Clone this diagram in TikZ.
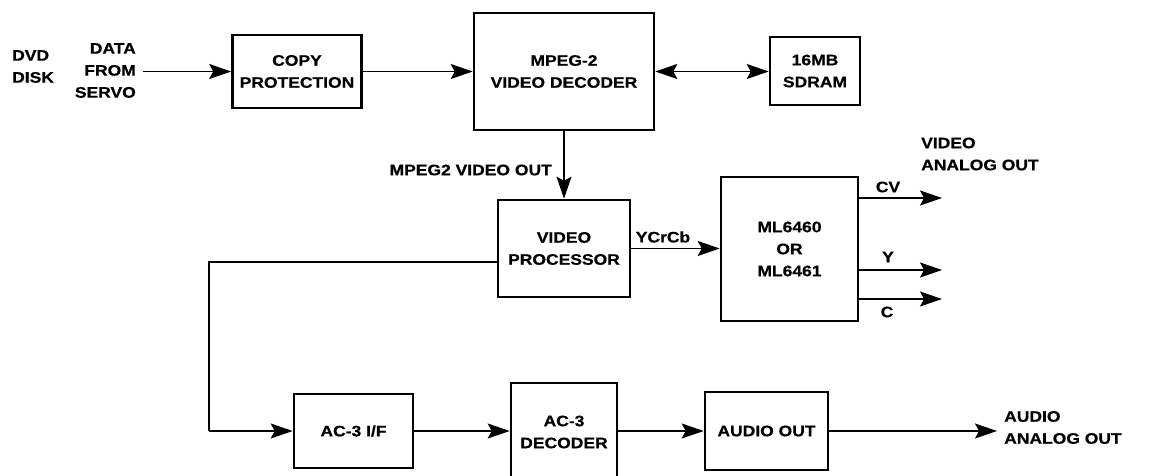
\documentclass[tikz,border=0pt]{standalone}
\usepackage{fontspec}
\setmainfont{Liberation Sans}[FakeStretch=1.15,FakeBold=0.6]
\usetikzlibrary{arrows.meta,positioning,calc}
\begin{document}
\begin{tikzpicture}[x=1pt,y=-1pt,
  every node/.style={font=\bfseries\fontsize{15.2}{22}\selectfont, inner sep=0pt},
  blk/.style={draw, line width=2.6pt, align=center},
  lbl/.style={align=center},
  tip/.tip={Stealth[length=22pt,width=15pt,inset=4pt]},
  conn/.style={line width=1.5pt, -tip},
  conn2/.style={line width=1.5pt, tip-tip},
  wire/.style={line width=1.5pt}]
\useasboundingbox (0,0) rectangle (1158,476);
\fill[white] (0,0) rectangle (1158,476);

% blocks
\node[blk, minimum width=129pt, minimum height=73pt] (copy) at (297,71.5) {COPY\\PROTECTION};
\node[blk, minimum width=180pt, minimum height=117pt] (mpeg) at (564,71.5) {MPEG-2\\VIDEO DECODER};
\node[blk, minimum width=90pt, minimum height=68pt] (sdram) at (815,71) {16MB\\SDRAM};
\node[blk, minimum width=132pt, minimum height=97pt] (vp) at (564,248.5) {VIDEO\\PROCESSOR};
\node[blk, minimum width=137pt, minimum height=144pt] (ml) at (789.5,249) {ML6460\\OR\\ML6461};
\node[blk, minimum width=119pt, minimum height=74pt] (acif) at (353.5,431) {AC-3 I/F};
\node[blk, minimum width=106pt, minimum height=98pt] (dec) at (564,432) {AC-3\\DECODER};
\node[blk, minimum width=123pt, minimum height=78pt] (aout) at (766.5,431) {AUDIO OUT};

% labels
\node[lbl, align=left, anchor=west] (dvd) at (12,66.5) {DVD\\DISK};
\node[lbl, align=right, anchor=east] (data) at (136,70.5) {DATA\\FROM\\SERVO};
\node[anchor=east] (mvo) at (552,170) {MPEG2 VIDEO OUT};
\node (ycrcb) at (663,237) {YCrCb};
\node (cv) at (888,187) {CV};
\node (ylbl) at (888,257) {Y};
\node (clbl) at (887,312) {C};
\node[lbl, align=left, anchor=west] (vao) at (921,154) {VIDEO\\ANALOG OUT};
\node[lbl, align=left, anchor=west] (aao) at (1004,427.5) {AUDIO\\ANALOG OUT};

% free end coordinates
\coordinate (datain) at (143,71.5);
\coordinate (cvE) at (942,198);
\coordinate (yE) at (942,270);
\coordinate (cE) at (942,299);
\coordinate (bend) at (209,431);
\coordinate (audE) at (997,431);

% connectors
\draw[conn] (datain) -- (copy.west);
\draw[conn] (copy.east) -- (mpeg.west);
\draw[conn2] (mpeg.east) -- (sdram.west |- mpeg.east);
\draw[conn] (mpeg.south) -- (vp.north);
\draw[conn] (vp.east) -- (vp.east -| ml.west);
\draw[conn] (ml.east |- cvE) -- (cvE);
\draw[conn] (ml.east |- yE) -- (yE);
\draw[conn] (ml.east |- cE) -- (cE);
\draw[wire] ([yshift=-13.5pt]vp.west) -| (bend);
\draw[conn] (bend) -- (acif.west);
\draw[conn] (acif.east) -- (acif.east -| dec.west);
\draw[conn] (dec.east |- aout.west) -- (aout.west);
\draw[conn] (aout.east) -- (audE);
\end{tikzpicture}
\end{document}
